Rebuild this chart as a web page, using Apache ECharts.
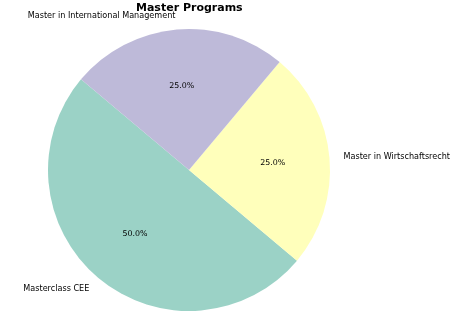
<!DOCTYPE html>
<html><head><meta charset="utf-8">
<script src="https://cdn.jsdelivr.net/npm/echarts@6/dist/echarts.min.js"></script>
<style>html,body{margin:0;padding:0;background:#fff}#c{width:454px;height:316px}</style>
</head><body><div id="c"></div>
<script>
const categories = ['Masterclass CEE', 'Master in Wirtschaftsrecht', 'Master in International Management'];
const values = [2, 1, 1];
const colors = ['#9bd2c6', '#ffffbb', '#bebad9'];

const R = 141, CX = 189, CY = 170;
const font = 'DejaVu Sans';
const data = categories.map((c, i) => ({ name: c, value: values[i], itemStyle: { color: colors[i] } }));
const chart = echarts.init(document.getElementById('c'), null, { renderer: 'canvas' });
chart.setOption({
  animation: false,
  title: { text: 'Master Programs', left: 136, top: 3, padding: 0,
    textStyle: { fontFamily: font, fontWeight: 'bold', fontSize: 11, color: '#000' } },
  series: [
    { type: 'pie', center: [CX, CY], radius: [0, R], startAngle: 140, clockwise: false,
      data: data, silent: true,
      label: { show: true, position: 'outside', formatter: '{b}', fontFamily: font, fontSize: 8.1, color: '#000',
        overflow: 'none', distanceToLabelLine: 0 },
      labelLine: { show: false, length: R * 0.1, length2: 0 },
      labelLayout: { hideOverlap: false, moveOverlap: false }
    },
    { type: 'pie', center: [CX, CY], radius: [21, R], startAngle: 140, clockwise: false,
      data: categories.map((c, i) => ({ name: c, value: values[i] })),
      itemStyle: { color: 'rgba(0,0,0,0)' }, silent: true,
      label: { show: true, position: 'inside', fontFamily: font, fontSize: 7.9, color: '#000',
        formatter: p => p.percent.toFixed(1) + '%' },
      labelLine: { show: false }
    }
  ]
});
</script></body></html>
